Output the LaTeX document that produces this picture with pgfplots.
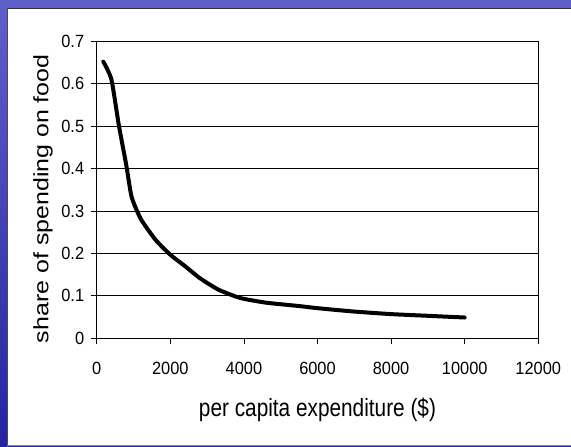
\documentclass[border=0pt]{standalone}
\usepackage{pgfplots}
\pgfplotsset{compat=1.18}
\usepackage{graphicx}
\usepackage{fontspec}
\setmainfont{Liberation Sans}

\definecolor{slideTop}{HTML}{6060CA}
\definecolor{slideBot}{HTML}{2424A2}

% Engel curve: share of spending on food vs per capita expenditure
\pgfplotstableread{
x      y
180    0.652
400    0.610
600    0.503
800    0.410
950    0.333
1200   0.281
1600   0.232
2000   0.197
2400   0.170
2800   0.142
3300   0.115
3900   0.095
4600   0.084
5500   0.076
6000   0.071
7000   0.063
8000   0.057
9000   0.053
10000  0.049
}\engeldata

\begin{document}
\begin{tikzpicture}
  \useasboundingbox (0pt,0pt) rectangle (571pt,447pt);
  % slide background
  \shade[top color=slideTop, bottom color=slideBot] (0pt,0pt) rectangle (571pt,447pt);
  \fill[white] (7pt,1.3pt) rectangle (571pt,439pt);
  \draw[black!80, line width=0.8pt] (7pt,439pt) -- (571pt,439pt);
  \draw[black!70, line width=0.8pt] (7pt,1.3pt) -- (7pt,439pt);
  \draw[black!45, line width=0.8pt] (7pt,1.3pt) -- (571pt,1.3pt);

  \begin{axis}[
    at={(96.7pt,108.7pt)}, anchor=south west,
    width=441.6pt, height=297pt, scale only axis,
    xmin=0, xmax=12000, ymin=0, ymax=0.7,
    xtick={0,2000,...,12000},
    ytick={0,0.1,...,0.7},
    ymajorgrids,
    major grid style={black, line width=0.8pt},
    axis line style={black, line width=0.8pt},
    tick style={black, line width=0.8pt},
    major tick length=6pt,
    tick align=outside,
    xtick pos=bottom, ytick pos=left,
    scaled x ticks=false, scaled y ticks=false,
    /pgf/number format/assume math mode=true,
    /pgf/number format/set thousands separator={},
    yticklabel={\scalebox{1}[1.08]{\pgfmathprintnumber[fixed,precision=1]{\tick}}},
    xticklabel={\scalebox{1}[1.08]{\pgfmathprintnumber{\tick}}},
    yticklabel style={font=\fontsize{16.4}{18}\selectfont, xshift=-3pt},
    xticklabel style={font=\fontsize{16.4}{18}\selectfont, yshift=-14pt},
    xlabel={\scalebox{1}[1.2]{per capita expenditure (\$)}},
    ylabel={\scalebox{1.2}[1]{share of spending on food}},
    label style={font=\fontsize{20.8}{24}\selectfont},
    xlabel style={at={(axis description cs:0.5,-0.241)}, anchor=center},
    ylabel style={at={(axis description cs:-0.1216,0.47)}, anchor=center},
  ]
    \addplot[black, line width=4pt, line join=round, line cap=round, smooth, tension=0.35]
      table[x=x, y=y] {\engeldata};
  \end{axis}
\end{tikzpicture}
\end{document}
